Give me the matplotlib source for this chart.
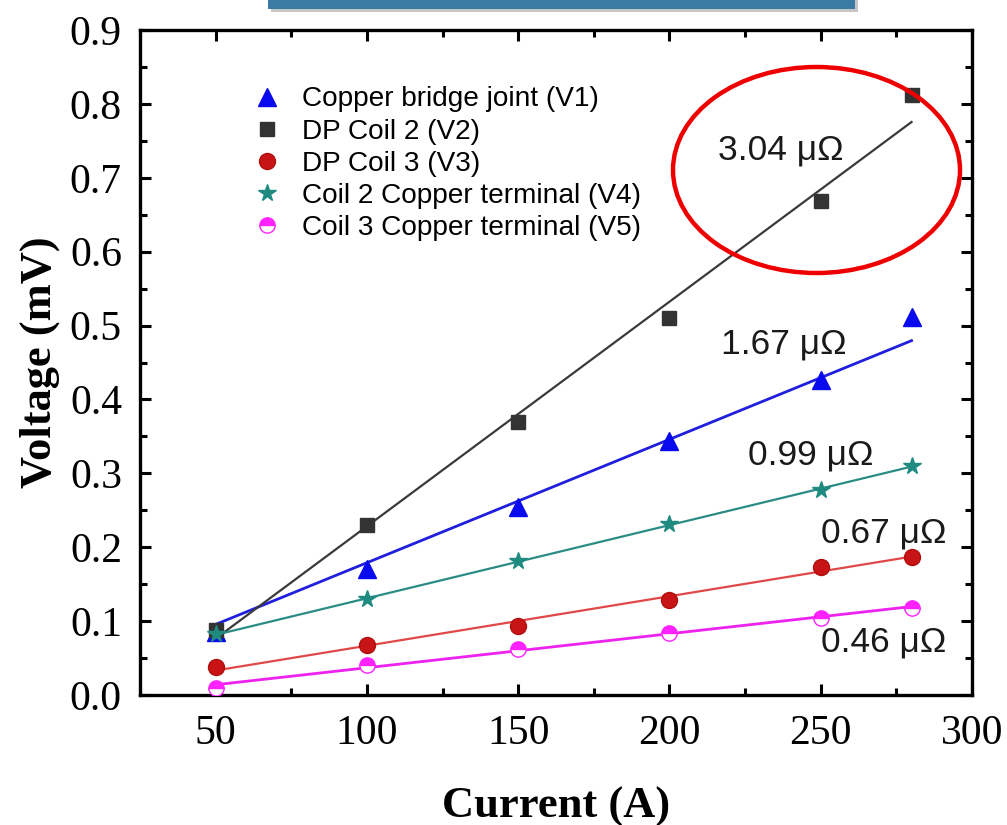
import numpy as np
import matplotlib
matplotlib.use("Agg")
import matplotlib.pyplot as plt
from matplotlib.patches import Ellipse, Rectangle
from matplotlib.ticker import MultipleLocator

# Current steps (A)
current = [50, 100, 150, 200, 250, 280]

# Measured voltages (mV)
v1_bridge = [0.085, 0.171, 0.254, 0.344, 0.426, 0.512]
v2_coil2 = [0.088, 0.230, 0.369, 0.510, 0.668, 0.812]
v3_coil3 = [0.038, 0.068, 0.093, 0.129, 0.173, 0.187]
v4_term2 = [0.082, 0.130, 0.181, 0.231, 0.277, 0.310]
v5_term3 = [0.010, 0.041, 0.062, 0.084, 0.104, 0.118]

labels = ["Copper bridge joint (V1)", "DP Coil 2 (V2)", "DP Coil 3 (V3)",
          "Coil 2 Copper terminal (V4)", "Coil 3 Copper terminal (V5)"]

# Fitted resistances (micro-ohm == mV / A * 1000)
resistances = [1.67, 3.04, 0.67, 0.99, 0.46]
res_text = ["1.67 μΩ", "3.04 μΩ", "0.67 μΩ", "0.99 μΩ", "0.46 μΩ"]

fig = plt.figure(figsize=(10.07, 8.25), dpi=100)
ax = fig.add_axes([0.139, 0.1576, 0.8263, 0.806])

x = np.array(current, dtype=float)
series = [v1_bridge, v2_coil2, v3_coil3, v4_term2, v5_term3]
marker_styles = [
    dict(marker="^", ms=13, mfc="#0a0aee", mec="#0a0aee"),
    dict(marker="s", ms=10, mfc="#333333", mec="#333333"),
    dict(marker="o", ms=11.5, mfc="#c81414", mec="#b01010"),
    dict(marker="*", ms=13, mfc="#1e8a80", mec="#1e8a80"),
    dict(marker="o", ms=11, mfc="#ff22ff", mec="#ff22ff", fillstyle="top",
         mfcalt="white"),
]
line_colors = ["#1f1fdd", "#3a3a3a", "#e04848", "#2a8c85", "#ee22ee"]
line_widths = [2.0, 1.6, 1.6, 1.6, 2.0]

# fit lines: slope from the stated resistance, offset by least squares
for y, slope, c, lw in zip(series, resistances, line_colors, line_widths):
    y = np.array(y)
    k = slope / 1000.0
    b = y.mean() - k * x.mean()
    ax.plot(x, k * x + b, color=c, lw=lw, zorder=2)

handles = []
for y, st, lab in zip(series, marker_styles, labels):
    st = dict(st)
    alt = st.pop("mfcalt", None)
    h, = ax.plot(x, y, ls="none", label=lab, zorder=3,
                 markerfacecoloralt=alt if alt else "none", **st)
    handles.append(h)

ax.set_xlim(25, 300)
ax.set_ylim(0, 0.9)
ax.xaxis.set_major_locator(MultipleLocator(50))
ax.xaxis.set_minor_locator(MultipleLocator(25))
ax.yaxis.set_major_locator(MultipleLocator(0.1))
ax.yaxis.set_minor_locator(MultipleLocator(0.05))
ax.yaxis.set_major_formatter(matplotlib.ticker.FormatStrFormatter("%.1f"))

for sp in ax.spines.values():
    sp.set_linewidth(2.4)
ax.tick_params(which="both", direction="in", top=True, right=True, width=2.2)
ax.tick_params(which="major", length=8)
ax.tick_params(which="minor", length=5)
ax.tick_params(axis="y", which="major", pad=13)
ax.tick_params(axis="x", which="major", pad=14)
for t in ax.get_xticklabels() + ax.get_yticklabels():
    t.set_fontfamily("Liberation Serif")
    t.set_fontsize(30)

ax.set_xlabel("Current (A)", fontfamily="Liberation Serif", fontweight="bold",
              fontsize=32, labelpad=24)
ax.set_ylabel("Voltage (mV)", fontfamily="Liberation Serif", fontweight="bold",
              fontsize=32, labelpad=7)

leg = ax.legend(handles=handles, loc="upper left", bbox_to_anchor=(0.122, 0.932),
                frameon=False, handlelength=1.0, handletextpad=0.75,
                labelspacing=0.22, borderaxespad=0.0,
                prop={"family": "Liberation Sans", "size": 20.2})

# resistance annotations
text_pos = [(217.0, 0.475), (216.0, 0.738), (250.0, 0.219), (226.0, 0.325), (250.0, 0.072)]
for (tx, ty), s in zip(text_pos, res_text):
    ax.text(tx, ty, s, fontfamily="Liberation Sans", fontsize=25.5,
            color="#1a1a1a", ha="left", va="center", zorder=4)

# highlight ring around the DP coil 2 result
ring = Ellipse((816.5 / 1007, 1 - 170 / 825), 287 / 1007, 206 / 825,
               transform=fig.transFigure, fill=False, ec="#ee0000", lw=3.2,
               zorder=10)
fig.patches.append(ring)

# banner strip at the top edge
fig.patches.append(Rectangle((271 / 1007, 1 - 12 / 825), 587 / 1007, 12 / 825,
                             transform=fig.transFigure, fc="#9a9a9a", ec="none",
                             alpha=0.55, zorder=9))
fig.patches.append(Rectangle((268 / 1007, 1 - 9 / 825), 587 / 1007, 9 / 825,
                             transform=fig.transFigure, fc="#3b7aa2", ec="none",
                             zorder=10))

fig.savefig("out.png", dpi=100)
